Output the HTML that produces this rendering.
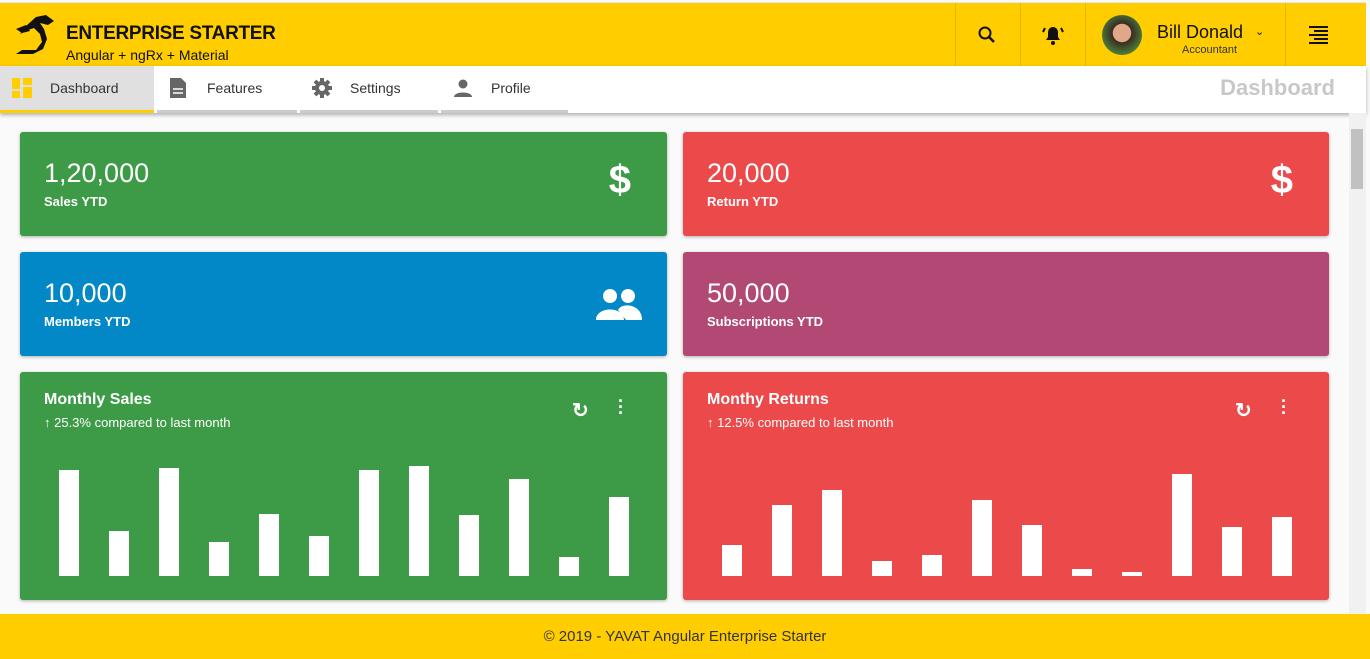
<!DOCTYPE html>
<html><head><meta charset="utf-8"><style>
*{box-sizing:border-box;margin:0;padding:0}
body{width:1370px;height:659px;overflow:hidden;font-family:"Liberation Sans",sans-serif;background:#fafafa;position:relative}
.hdr{position:absolute;left:0;top:2px;width:1366px;height:64px;background:#ffcd00;border-top:1px solid #e6e6e6}
.nav{position:absolute;left:0;top:66px;width:1366px;height:47px;background:#fff;box-shadow:0 2px 4px rgba(0,0,0,.3)}
.tab{position:absolute;top:0;height:47px;display:flex;align-items:center;font-size:14px;color:#333}
.card{position:absolute;border-radius:3px;color:#fff;box-shadow:0 1px 3px rgba(0,0,0,.3)}
.big{position:absolute;left:24px;top:26px;font-size:27px}
.sub{position:absolute;left:24px;top:62px;font-size:13px;font-weight:bold}
.hdiv{position:absolute;top:0;height:64px;border-left:1px solid #e5b800}
</style></head><body>
<div class="hdr">
 <svg style="position:absolute;left:14px;top:12px" width="54" height="42" viewBox="0 0 54 42"><path d="M22 2l10-2 8 6-6 4-8-2 4 6 3 10-4 10-10 5H2l6-4h14l6-8-2-8-6-6-6 2-8 4 6-8z" fill="#111"/><path d="M2 14l10-4 4 6-8 2z" fill="#111"/></svg>
 <div style="position:absolute;left:66px;top:20px;font-size:19px;font-weight:bold;color:#111;letter-spacing:-0.3px">ENTERPRISE STARTER</div>
 <div style="position:absolute;left:66px;top:44px;font-size:14px;color:#111">Angular + ngRx + Material</div>
 <div class="hdiv" style="left:955px"></div><div class="hdiv" style="left:1020px"></div><div class="hdiv" style="left:1085px"></div><div class="hdiv" style="left:1285px"></div>
 <svg style="position:absolute;left:977px;top:22px" width="20" height="20"><circle cx="8" cy="8" r="5.5" stroke="#111" stroke-width="2" fill="none"/><line x1="12" y1="12" x2="17" y2="17" stroke="#111" stroke-width="2.5"/></svg>
 <svg style="position:absolute;left:1042px;top:20px" width="22" height="24"><path d="M4 17h14l-2-3V9a5 5 0 0 0-10 0v5z" fill="#111"/><circle cx="11" cy="20" r="2" fill="#111"/><path d="M3 5l-2 4M19 5l2 4" stroke="#111" stroke-width="2"/></svg>
 <div style="position:absolute;left:1102px;top:12px;width:40px;height:40px;border-radius:50%;background:radial-gradient(circle at 50% 45%,#e0a888 30%,#3a2a20 32%,#4a7a3a 70%,#d02020 90%)"></div>
 <div style="position:absolute;left:1157px;top:19px;font-size:18px;color:#111">Bill Donald</div>
 <div style="position:absolute;left:1182px;top:41px;font-size:11px;color:#333">Accountant</div>
 <div style="position:absolute;left:1255px;top:22px;font-size:11px;color:#111">⌄</div>
 <svg style="position:absolute;left:1308px;top:22px" width="22" height="20"><path d="M1 2h19M6 6h14M1 10h19M6 14h14M1 18h19" stroke="#111" stroke-width="2"/></svg>
</div>
<div class="nav">
 <div class="tab" style="left:0;width:154px;background:#e0e0e0;border-bottom:3px solid #ffcd00"><svg style="margin-left:12px" width="20" height="20"><rect x="0" y="0" width="8" height="11" fill="#ffcd00"/><rect x="11" y="0" width="9" height="7" fill="#ffcd00"/><rect x="0" y="13" width="8" height="7" fill="#ffcd00"/><rect x="11" y="9" width="9" height="11" fill="#ffcd00"/></svg><span style="margin-left:18px">Dashboard</span></div>
 <div class="tab" style="left:157px;width:140px;border-bottom:3px solid #ccc"><svg style="margin-left:12px" width="18" height="22"><path d="M1 1h11l5 5v15H1z" fill="#666"/><path d="M4 12h10M4 16h10" stroke="#fff" stroke-width="1.5"/></svg><span style="margin-left:20px">Features</span></div>
 <div class="tab" style="left:300px;width:138px;border-bottom:3px solid #ccc"><svg style="margin-left:11px" width="22" height="22"><circle cx="11" cy="11" r="7" fill="#666"/><path d="M11 1v20M1 11h20M4 4l14 14M18 4L4 18" stroke="#666" stroke-width="4"/><circle cx="11" cy="11" r="3" fill="#fff"/></svg><span style="margin-left:17px">Settings</span></div>
 <div class="tab" style="left:441px;width:127px;border-bottom:3px solid #ccc"><svg style="margin-left:12px" width="20" height="20"><circle cx="10" cy="6" r="4.5" fill="#666"/><path d="M1 19c0-6 18-6 18 0z" fill="#666"/></svg><span style="margin-left:18px">Profile</span></div>
 <div style="position:absolute;right:31px;top:9px;font-size:22px;font-weight:bold;color:#c8c8c8">Dashboard</div>
</div>
<div style="position:absolute;left:1349px;top:113px;width:17px;height:501px;background:#f1f1f1"><div style="position:absolute;left:2px;top:16px;width:12px;height:60px;background:#c1c1c1"></div></div>
<div class="card" style="left:20px;top:132px;width:647px;height:104px;background:#3d9a47"><div class="big">1,20,000</div><div class="sub">Sales YTD</div><div style="position:absolute;right:36px;top:26px;font-size:40px;font-weight:bold">$</div></div>
<div class="card" style="left:683px;top:132px;width:646px;height:104px;background:#ec494a"><div class="big">20,000</div><div class="sub">Return YTD</div><div style="position:absolute;right:36px;top:26px;font-size:40px;font-weight:bold">$</div></div>
<div class="card" style="left:20px;top:252px;width:647px;height:104px;background:#0288c7"><div class="big">10,000</div><div class="sub">Members YTD</div><svg style="position:absolute;right:25px;top:36px" width="46" height="32"><circle cx="14" cy="8" r="7" fill="#fff"/><circle cx="32" cy="8" r="7" fill="#fff"/><path d="M0 32c0-14 28-14 28 0zM22 22c4-8 24-6 24 10H30z" fill="#fff"/></svg></div>
<div class="card" style="left:683px;top:252px;width:646px;height:104px;background:#b24874"><div class="big">50,000</div><div class="sub">Subscriptions YTD</div></div>
<div class="card" style="left:20px;top:372px;width:647px;height:228px;background:#3d9a47">
 <div style="position:absolute;left:24px;top:19px;font-size:16px;font-weight:bold">Monthly Sales</div>
 <div style="position:absolute;left:24px;top:43px;font-size:13px">↑ 25.3% compared to last month</div>
 <div style="position:absolute;left:552px;top:26px;font-size:20px;font-weight:bold">↻</div>
 <div style="position:absolute;left:598px;top:26px;font-size:18px;font-weight:bold;line-height:6px">·<br>·<br>·</div>
 <svg id="c1" style="position:absolute;left:0;top:0" width="647" height="228"></svg>
</div>
<div class="card" style="left:683px;top:372px;width:646px;height:228px;background:#ec494a">
 <div style="position:absolute;left:24px;top:19px;font-size:16px;font-weight:bold">Monthy Returns</div>
 <div style="position:absolute;left:24px;top:43px;font-size:13px">↑ 12.5% compared to last month</div>
 <div style="position:absolute;left:552px;top:26px;font-size:20px;font-weight:bold">↻</div>
 <div style="position:absolute;left:598px;top:26px;font-size:18px;font-weight:bold;line-height:6px">·<br>·<br>·</div>
 <svg id="c2" style="position:absolute;left:0;top:0" width="646" height="228"></svg>
</div>
<div style="position:absolute;left:0;top:614px;width:1370px;height:45px;background:#ffcd00;text-align:center;line-height:45px;font-size:15px;color:#333">© 2019 - YAVAT Angular Enterprise Starter</div>
<script>
const months=["Jan","Feb","Mar","Apr","May","Jun","Jul","Aug","Sep","Oct","Nov","Dec"];
const salesValues=[106,45,108,34,62,40,106,110,61,97,19,79];
const returnValues=[31,71,86,15,21,76,51,7,4,102,49,59];
function draw(id,vals,x0,name){
 const svg=document.getElementById(id);
 const base=204,maxV=120,plotH=120;
 const y=v=>v/maxV*plotH;
 const xs=i=>x0+i*50;
 vals.forEach((v,i)=>{
  const r=document.createElementNS("http://www.w3.org/2000/svg","rect");
  
  
  r.setAttribute("x",xs(i));r.setAttribute("width",20);
  r.setAttribute("y",base-y(v));r.setAttribute("height",y(v));r.setAttribute("fill","#fff");
  svg.appendChild(r);
 });
}
draw("c1",salesValues,39,"sales");
draw("c2",returnValues,39,"returns");
</script>
</body></html>
